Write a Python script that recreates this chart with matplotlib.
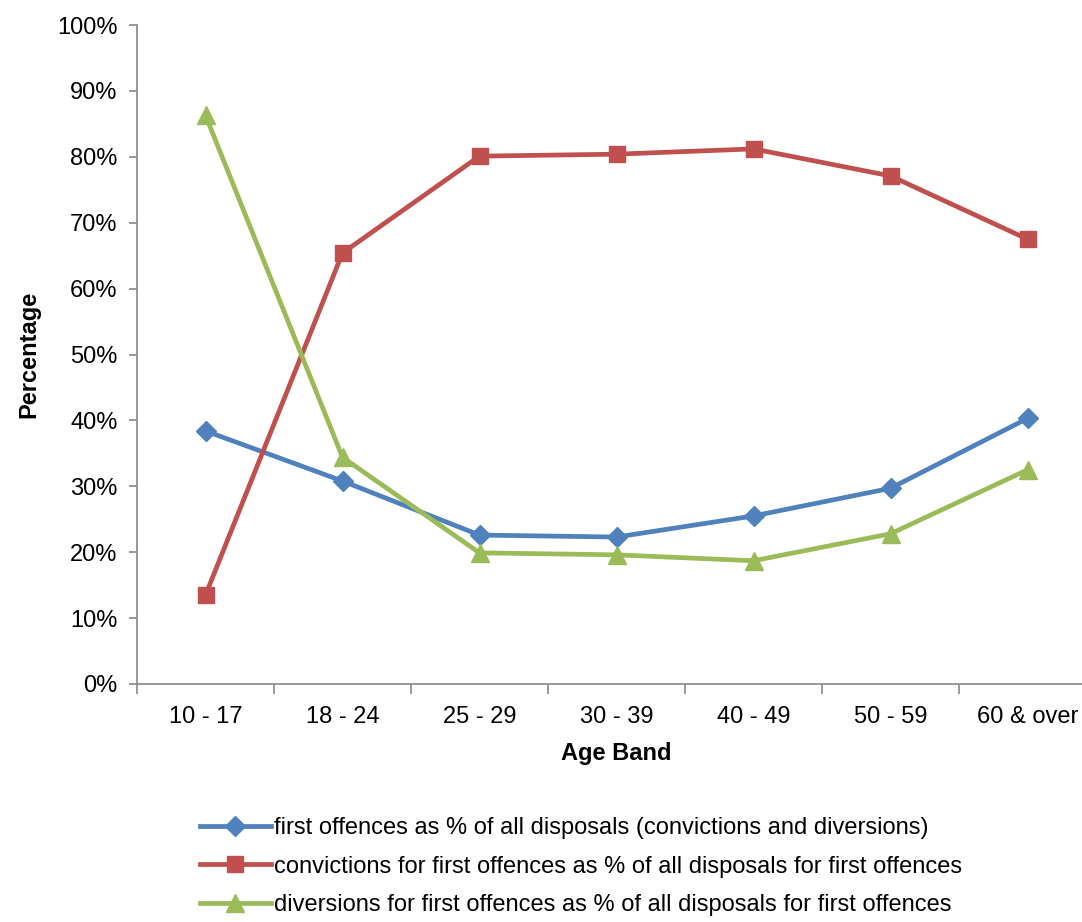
import matplotlib.pyplot as plt
from matplotlib.ticker import FuncFormatter, MultipleLocator, FixedLocator
import numpy as np

plt.rcParams['font.family'] = ['Liberation Sans', 'DejaVu Sans']

# Datos
bandas = ["10 - 17", "18 - 24", "25 - 29", "30 - 39", "40 - 49", "50 - 59", "60 & over"]
primeras = [38.4, 30.8, 22.6, 22.3, 25.5, 29.7, 40.3]
condenas = [13.5, 65.4, 80.1, 80.4, 81.2, 77.1, 67.5]
desvios = [86.3, 34.4, 19.9, 19.6, 18.7, 22.8, 32.5]

etiquetas = [
    "first offences as % of all disposals (convictions and diversions)",
    "convictions for first offences as % of all disposals for first offences",
    "diversions for first offences as % of all disposals for first offences",
]

fig = plt.figure(figsize=(10.82, 9.22), dpi=100)
ax = fig.add_axes([137 / 1082, 238 / 922, 959 / 1082, 659 / 922])

x = np.arange(len(bandas))
ax.plot(x, primeras, color="#4F81BD", lw=3.4, marker="D", ms=10, label=etiquetas[0])
ax.plot(x, condenas, color="#C0504D", lw=3.4, marker="s", ms=12, label=etiquetas[1])
ax.plot(x, desvios, color="#9BBB59", lw=3.4, marker="^", ms=13, label=etiquetas[2])

ax.set_xlim(-0.5, len(bandas) - 0.5)
ax.set_ylim(0, 100)
ax.yaxis.set_major_locator(MultipleLocator(10))
ax.yaxis.set_major_formatter(FuncFormatter(lambda v, p: f"{v:.0f}%"))
ax.set_xticks(x)
ax.set_xticklabels(bandas, fontsize=17)
ax.tick_params(axis="x", which="major", length=0, pad=16)
ax.xaxis.set_minor_locator(FixedLocator(np.arange(-0.5, len(bandas), 1)))
ax.tick_params(axis="x", which="minor", length=7, color="#888888", width=1.2)
ax.tick_params(axis="y", labelsize=17, length=6, color="#888888", width=1.2, pad=8)

for s in ["top", "right"]:
    ax.spines[s].set_visible(False)
for s in ["left", "bottom"]:
    ax.spines[s].set_color("#888888")
    ax.spines[s].set_linewidth(1.2)

ax.set_xlabel("Age Band", fontsize=17, fontweight="bold", labelpad=10)
ax.set_ylabel("Percentage", fontsize=17, fontweight="bold", labelpad=12)

fig.legend(loc="upper center", bbox_to_anchor=(0.537, 0.124), frameon=False,
           fontsize=17, handlelength=3.0, handletextpad=0.15, labelspacing=0.7,
           borderaxespad=0)

fig.savefig("out.png", dpi=100)
